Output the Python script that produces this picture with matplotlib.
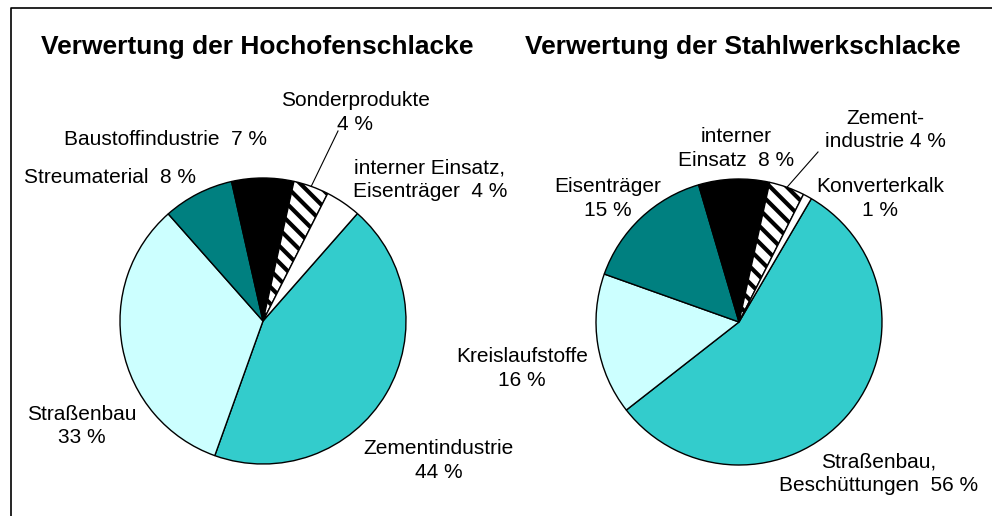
import matplotlib
matplotlib.use('Agg')
import matplotlib.pyplot as plt
import numpy as np

plt.rcParams['font.family'] = ['Liberation Sans', 'DejaVu Sans']
plt.rcParams['hatch.linewidth'] = 3.0

# Hochofenschlacke (clockwise from the start angle)
hoch_labels = ['Zementindustrie\n44 %', 'Straßenbau\n33 %', 'Streumaterial  8 %',
               'Baustoffindustrie  7 %', 'Sonderprodukte\n4 %',
               'interner Einsatz,\nEisenträger  4 %']
hoch_values = [44, 33, 8, 7, 4, 4]

# Stahlwerkschlacke
stahl_labels = ['Straßenbau,\nBeschüttungen  56 %', 'Kreislaufstoffe\n16 %',
                'Eisenträger\n15 %', 'interner\nEinsatz  8 %',
                'Zement-\nindustrie 4 %', 'Konverterkalk\n1 %']
stahl_values = [56, 16, 15, 8, 4, 1]

colors = ['#33CCCC', '#CCFFFF', '#008080', '#000000', '#FFFFFF', '#FFFFFF']
hatches = [None, None, None, None, '\\\\', None]

W, H = 992, 516
LINE = 24  # baseline distance between label lines, px

fig = plt.figure(figsize=(W / 100, H / 100), dpi=100)
ax = fig.add_axes([0, 0, 1, 1])


def draw_pie(values, center, start):
    wedges, _ = ax.pie(values, colors=colors, startangle=start, counterclock=False,
                       center=center, radius=143, frame=True,
                       wedgeprops=dict(edgecolor='black', linewidth=1.0))
    for w, h in zip(wedges, hatches):
        if h:
            w.set_hatch(h)
    return wedges


# pixel positions (x, y from top) of the labels, first-line baseline
hoch_pos = [(439, 454), (82, 419), (110, 183), (166, 145), (355, 106), (430, 173)]
stahl_pos = [(879, 467), (522, 362), (608, 192), (736, 142), (885, 123), (880, 192)]

for values, labels, pos, c, start, title, tx, lead in [
        (hoch_values, hoch_labels, hoch_pos, (263, H - 321), 48.7,
         'Verwertung der Hochofenschlacke', 257, (338, 131)),
        (stahl_values, stahl_labels, stahl_pos, (739, H - 322), 59.6,
         'Verwertung der Stahlwerkschlacke', 743, (818, 152))]:
    wedges = draw_pie(values, c, start)
    for lab, (px, py) in zip(labels, pos):
        # baseline alignment uses the last line
        py_last = py + LINE * lab.count('\n')
        ax.text(px, H - py_last, lab, ha='center', va='baseline', fontsize=15,
                linespacing=1.3, multialignment='center')
    ax.text(tx, H - 54, title, ha='center', va='baseline', fontsize=19,
            fontweight='bold')
    # leader line to the hatched wedge
    w = wedges[4]
    mid = np.deg2rad((w.theta1 + w.theta2) / 2)
    ex = c[0] + 143 * np.cos(mid)
    ey = c[1] + 143 * np.sin(mid)
    ax.plot([lead[0], ex], [H - lead[1], ey], color='black', linewidth=0.8)

ax.set_xlim(0, W)
ax.set_ylim(0, H)
ax.set_aspect('auto')
ax.axis('off')

# frame (left and top edges visible)
ax.plot([10.5, 10.5, W], [0, H - 7.5, H - 7.5], color='black', linewidth=1.2,
        clip_on=False)

fig.savefig('out.png', dpi=100)
